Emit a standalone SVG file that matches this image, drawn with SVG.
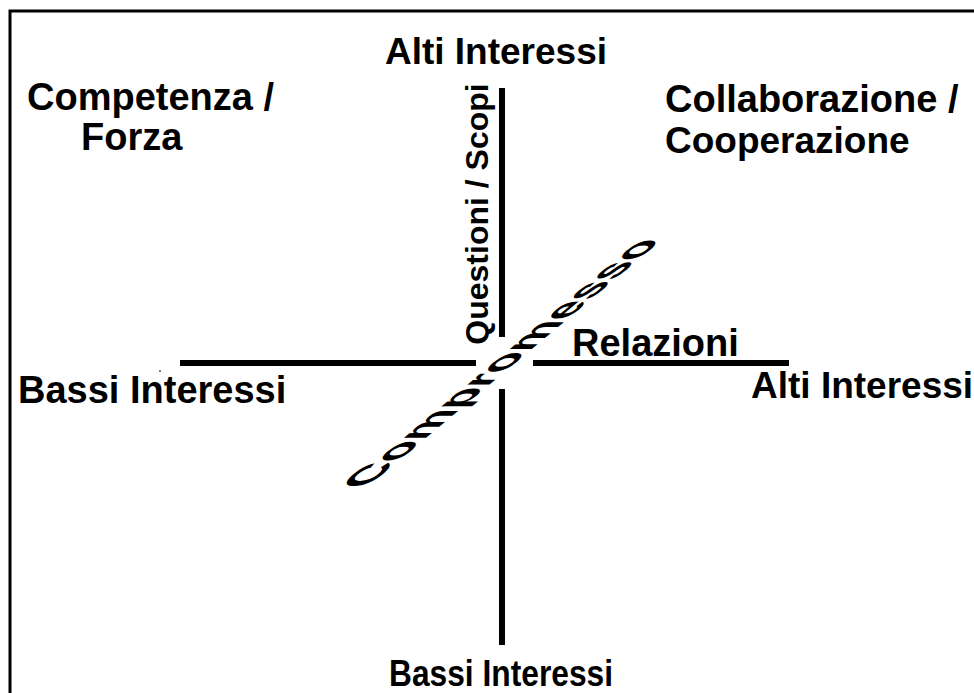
<svg xmlns="http://www.w3.org/2000/svg" width="974" height="693" viewBox="0 0 974 693">
<style>
.lbl{font-family:"Liberation Sans",Arial,sans-serif;font-weight:bold;font-size:37px;fill:#000}
.big{font-size:38px}
.ln{stroke:#000;stroke-width:6;fill:none}
</style>
<rect width="974" height="693" fill="#fff"/>
<path d="M10,693 V11 H974" stroke="#000" stroke-width="3" fill="none"/>
<g id="connectors">
<line class="ln" x1="502" y1="88" x2="502" y2="337"/>
<line class="ln" x1="502" y1="389" x2="502" y2="645"/>
<line class="ln" x1="180" y1="363" x2="476" y2="363"/>
<line class="ln" x1="533" y1="363" x2="789" y2="363"/>
<circle cx="160" cy="371" r="1" fill="#555"/>
</g>
<g id="top-label"><text class="lbl" x="496" y="64" text-anchor="middle">Alti Interessi</text></g>
<g id="competenza"><text class="lbl big" x="27" y="110">Competenza /</text><text class="lbl big" x="81" y="150">Forza</text></g>
<g id="collaborazione"><text class="lbl big" x="665" y="112">Collaborazione /</text><text class="lbl" x="665" y="153">Cooperazione</text></g>
<g id="left-label"><text class="lbl big" x="18" y="403">Bassi Interessi</text></g>
<g id="right-label"><text class="lbl" x="751" y="398">Alti Interessi</text></g>
<g id="relazioni"><text class="lbl big" x="572" y="356">Relazioni</text></g>
<g id="bottom-label"><text class="lbl" x="389" y="686" textLength="224" lengthAdjust="spacingAndGlyphs">Bassi Interessi</text></g>
<g id="questioni"><text class="lbl" transform="translate(488,214) rotate(-90)" text-anchor="middle" style="font-size:32px">Questioni / Scopi</text></g>
<g id="compromesso"><text class="lbl" transform="matrix(0.769 -0.645 0.755 0 366.6 487.5)" style="font-size:55px">Compromesso</text></g>
</svg>
